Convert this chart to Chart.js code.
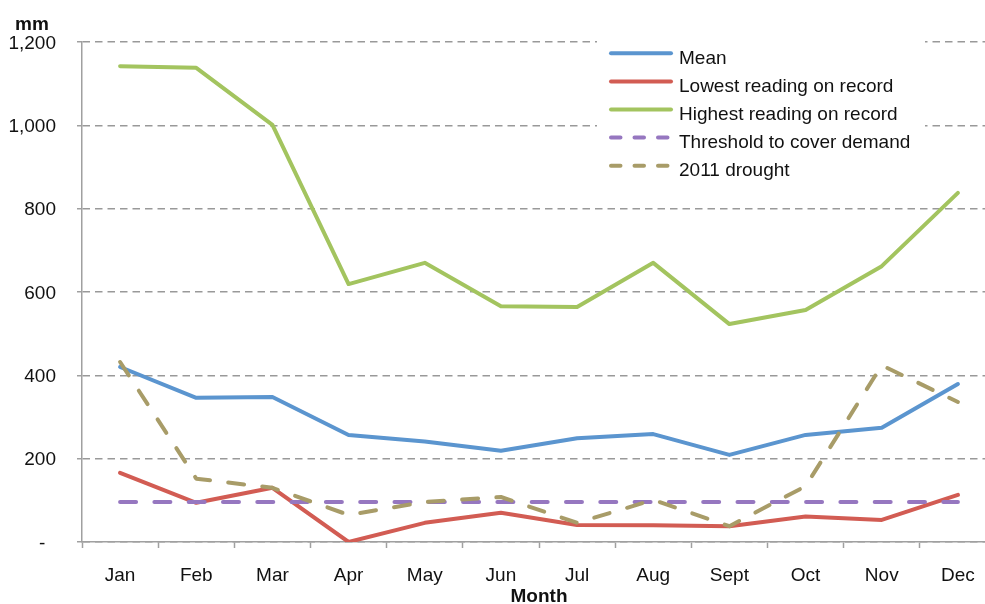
<!DOCTYPE html>
<html>
<head>
<meta charset="utf-8">
<script src="https://cdn.jsdelivr.net/npm/chart.js@4.4.1/dist/chart.umd.min.js"></script>
<style>
html, body { margin: 0; padding: 0; overflow: hidden; background: #fff; }
#wrap { width: 1000px; height: 604px; }
</style>
</head>
<body>
<div id="wrap"><canvas id="chart" width="1000" height="604"></canvas></div>
<script>
const months = ["Jan", "Feb", "Mar", "Apr", "May", "Jun", "Jul", "Aug", "Sept", "Oct", "Nov", "Dec"];
const meanRain = [420, 346, 348, 257, 241, 219, 249, 259, 209, 257, 274, 379];
const lowestRain = [166, 94, 130, 0, 46, 70, 41, 40, 38, 61, 53, 113];
const highestRain = [1142, 1138, 1001, 619, 670, 566, 564, 670, 523, 557, 662, 838];
const thresholdRain = [96, 96, 96, 96, 96, 96, 96, 96, 96, 96, 96, 96];
const drought2011 = [432, 152, 130, 65, 96, 108, 46, 101, 38, 134, 424, 336];
const yTicks = [0, 200, 400, 600, 800, 1000, 1200];

const FONT = "'Liberation Sans', Arial, Helvetica, sans-serif";
const axisGray = "#a0a0a0";

// "mm" unit label in the top left corner
const unitLabel = {
    id: "unitLabel",
    afterDraw: (chart) => {
        const { ctx } = chart;
        ctx.save();
        ctx.font = "bold 19px " + FONT;
        ctx.fillStyle = "#111";
        ctx.textAlign = "left";
        ctx.textBaseline = "alphabetic";
        ctx.fillText("mm", 15, 30);
        ctx.restore();
    },
};

// legend drawn inside the plot, on a white box over the grid
const innerLegend = {
    id: "innerLegend",
    afterDraw: (chart) => {
        const { ctx } = chart;
        ctx.save();
        ctx.fillStyle = "#fff";
        ctx.fillRect(597, 36, 328, 148);
        ctx.font = "19px " + FONT;
        ctx.textAlign = "left";
        ctx.textBaseline = "alphabetic";
        chart.data.datasets.forEach((ds, i) => {
            const ly = 53.3 + i * 28.1;
            ctx.beginPath();
            ctx.strokeStyle = ds.borderColor;
            ctx.lineWidth = 4;
            ctx.lineCap = "round";
            ctx.setLineDash(ds.borderDash && ds.borderDash.length ? [9.5, 14] : []);
            ctx.moveTo(611, ly);
            ctx.lineTo(671, ly);
            ctx.stroke();
            ctx.setLineDash([]);
            ctx.fillStyle = "#111";
            ctx.fillText(ds.label, 679, 64.3 + i * 27.9);
        });
        ctx.restore();
    },
};

const lineStyle = {
    borderWidth: 4,
    pointRadius: 0,
    pointHoverRadius: 0,
    tension: 0,
    borderCapStyle: "round",
    borderJoinStyle: "round",
    fill: false,
};

new Chart(document.getElementById("chart"), {
    type: "line",
    data: {
        labels: months,
        datasets: [
            { ...lineStyle, label: "Mean", data: meanRain, borderColor: "#5b95cf", order: 5 },
            { ...lineStyle, label: "Lowest reading on record", data: lowestRain, borderColor: "#d25c53", order: 4 },
            { ...lineStyle, label: "Highest reading on record", data: highestRain, borderColor: "#a3c45f", order: 3 },
            { ...lineStyle, label: "Threshold to cover demand", data: thresholdRain, borderColor: "#9677c0", borderDash: [16, 18.3], order: 2 },
            { ...lineStyle, label: "2011 drought", data: drought2011, borderColor: "#a89c68", borderDash: [16, 18.3], order: 1 },
        ],
    },
    options: {
        responsive: false,
        animation: false,
        devicePixelRatio: 1,
        layout: {
            padding: { top: 42, right: 4, left: 0, bottom: 0 },
        },
        plugins: {
            legend: { display: false },
            tooltip: { enabled: false },
        },
        scales: {
            x: {
                offset: true,
                grid: {
                    offset: true,
                    drawOnChartArea: false,
                    tickLength: 6,
                    tickColor: axisGray,
                    tickWidth: 1.5,
                },
                border: { color: axisGray, width: 1.5 },
                ticks: {
                    color: "#111",
                    padding: 16,
                    font: { family: FONT, size: 19 },
                },
                title: {
                    display: true,
                    text: "Month",
                    color: "#111",
                    padding: { top: 0, bottom: 0 },
                    font: { family: FONT, size: 19, weight: "bold", lineHeight: 0.8 },
                },
                afterFit: (scale) => {
                    scale.height = 62;
                },
            },
            y: {
                min: 0,
                max: 1200,
                afterBuildTicks: (scale) => {
                    scale.ticks = yTicks.map((v) => ({ value: v }));
                },
                grid: {
                    color: "#999999",
                    lineWidth: 1.5,
                    tickLength: 5,
                    tickColor: axisGray,
                    tickWidth: 1.5,
                },
                border: { color: axisGray, width: 1.5, dash: [7.5, 5] },
                ticks: {
                    color: "#111",
                    padding: 21,
                    labelOffset: 1.5,
                    font: { family: FONT, size: 19 },
                    callback: (value) => (value === 0 ? "-  " : value.toLocaleString("en-US")),
                },
                afterFit: (scale) => {
                    scale.width = 82;
                },
            },
        },
    },
    plugins: [unitLabel, innerLegend],
});
</script>
</body>
</html>
